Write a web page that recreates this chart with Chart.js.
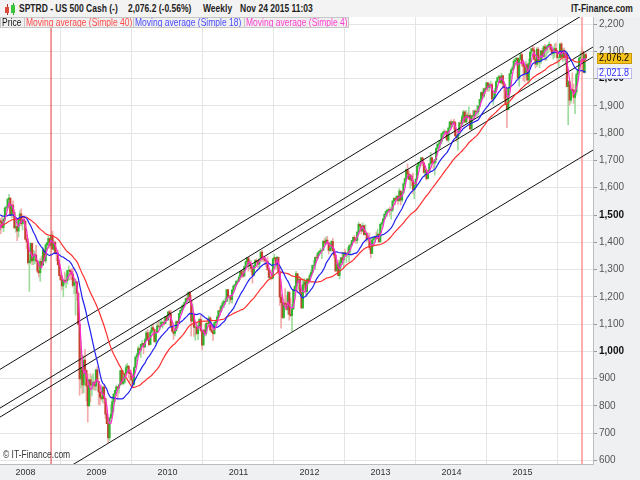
<!DOCTYPE html>
<html lang="en">
<head>
<meta charset="UTF-8">
<title>SPTRD - US 500 Cash - Weekly</title>
<style>
  body { margin: 0; background: #fff; font-family: "Liberation Sans", Arial, sans-serif; }
  #wrap { position: relative; width: 640px; height: 480px; overflow: hidden; }
  #c { position: absolute; left: 0; top: 0; }
  .sx { display: inline-block; white-space: nowrap; transform: scaleX(0.85); transform-origin: 0 50%; }
  #head { position: absolute; left: 0; top: 0; width: 640px; height: 17px; background: #f3f3f3; }
  #head .h { position: absolute; top: 2px; font-size: 10px; font-weight: bold; color: #1e1e1e; line-height: 13px; }
  .ic { position: absolute; width: 4px; }
  .lg { position: absolute; top: 17px; height: 11px; box-sizing: border-box; border: 1px solid #c6c6c6;
        background: #f0f0f0; font-size: 10px; line-height: 9px; overflow: hidden; padding-left: 1px; }
  #copy { position: absolute; left: 3px; top: 449px; font-size: 10px; color: #333; }
</style>
</head>
<body>
<div id="wrap">
  <canvas id="c" width="640" height="480"></canvas>
  <div id="head">
    <div class="ic" style="left:6px;top:4px;height:1px;background:#b03030;width:1px;left:7px;height:11px"></div>
    <div class="ic" style="left:5px;top:7px;height:6px;background:#e04a3a"></div>
    <div class="ic" style="left:12px;top:3px;height:12px;width:1px;left:13px;background:#2e9e2e"></div>
    <div class="ic" style="left:11px;top:5px;height:8px;background:#3cc43c"></div>
    <span class="h sx" style="left:19px">SPTRD - US 500 Cash (-)</span>
    <span class="h sx" style="left:128px">2,076.2 (-0.56%)</span>
    <span class="h sx" style="left:203px">Weekly</span>
    <span class="h sx" style="left:240px">Nov 24 2015 11:03</span>
    <span class="h sx" style="left:571px">IT-Finance.com</span>
  </div>
  <div class="lg" style="left:0;width:25px;color:#111"><span class="sx">Price</span></div>
  <div class="lg" style="left:24px;width:110px;color:#ff4a4a"><span class="sx">Moving average (Simple 40)</span></div>
  <div class="lg" style="left:133px;width:112px;color:#4a4aff"><span class="sx">Moving average (Simple 18)</span></div>
  <div class="lg" style="left:244px;width:105px;color:#ff3ccf"><span class="sx">Moving average (Simple 4)</span></div>
  <div id="copy"><span class="sx">&copy; IT-Finance.com</span></div>
</div>
<script src="https://cdn.jsdelivr.net/npm/chart.js"></script>
<script>
// weekly bars, first one starts Monday 6 Nov 2006 (those only feed the moving averages)
const firstWeek = Date.UTC(2006, 10, 6);

const warmupCloses = [
  1380, 1401, 1400, 1397, 1409, 1427, 1410, 1418, 1409, 1430, 1430, 1423, 1449, 1438,
  1455, 1451, 1388, 1402, 1386, 1437, 1421, 1443, 1452, 1484, 1494, 1505, 1505, 1522,
  1515, 1536, 1507, 1533, 1503, 1503, 1530, 1552, 1534, 1459, 1433, 1453, 1446
];

// visible weeks, from 20 Aug 2007 to 23 Nov 2015 (one line per year)
const closes = [
  1479,1474,1454,1484,1526,1527,1557,1562,1500,1536,1509,1453,1458,1441,1481,1504,1468,1484,1478,1411,
  1401,1325,1331,1396,1332,1349,1353,1331,1294,1288,1330,1316,1370,1332,1390,1398,1414,1389,1426,1375,1400,1361,1360,1318,1278,1262,1240,1261,1257,1260,1296,1298,1292,1283,1242,1252,1255,1213,1099,899,940,877,968,930,873,800,896,876,880,887,873,932,
  890,851,832,826,869,827,770,735,683,756,769,816,843,857,870,866,877,930,883,887,919,940,946,921,918,896,879,941,979,987,1010,1005,1026,1029,1016,1042,1068,1044,1025,1071,1087,1080,1036,1069,1093,1091,1091,1106,1106,1102,1127,1115,
  1145,1136,1092,1074,1066,1075,1109,1104,1139,1150,1160,1167,1179,1194,1192,1217,1187,1111,1136,1088,1089,1065,1092,1117,1077,1023,1078,1065,1103,1102,1122,1079,1071,1065,1105,1110,1126,1149,1147,1166,1177,1183,1183,1226,1200,1200,1190,1225,1240,1244,1257,1258,
  1272,1293,1283,1276,1311,1329,1343,1320,1321,1304,1279,1314,1333,1329,1320,1338,1364,1340,1338,1333,1331,1300,1271,1272,1268,1340,1344,1316,1345,1292,1199,1179,1124,1177,1174,1154,1216,1136,1131,1155,1225,1238,1285,1253,1264,1216,1159,1244,1255,1219,1265,1258,
  1278,1289,1315,1316,1345,1343,1361,1366,1370,1371,1404,1397,1408,1398,1370,1378,1403,1369,1353,1295,1318,1278,1325,1343,1335,1362,1355,1357,1363,1386,1391,1406,1418,1411,1407,1438,1466,1460,1441,1461,1428,1433,1412,1414,1380,1359,1409,1416,1418,1413,1430,1402,1466,
  1472,1486,1503,1513,1518,1520,1516,1518,1551,1561,1556,1569,1553,1588,1555,1582,1614,1634,1667,1650,1631,1643,1626,1593,1606,1632,1680,1692,1692,1710,1691,1656,1664,1633,1655,1688,1710,1692,1691,1703,1745,1760,1762,1771,1798,1804,1806,1805,1775,1818,1841,1831,
  1842,1839,1790,1783,1797,1838,1836,1859,1878,1841,1866,1857,1865,1815,1864,1863,1881,1878,1878,1900,1924,1949,1936,1963,1961,1985,1968,1978,1978,1925,1931,1955,1988,2003,2007,1985,2011,1982,1968,1906,1886,1964,2018,2032,2039,2064,2068,2075,2002,2071,2088,2058,
  2045,2019,2051,1995,2055,2097,2110,2104,2071,2053,2108,2061,2067,2102,2081,2117,2108,2116,2123,2126,2107,2092,2094,2110,2102,2077,2077,2127,2080,2104,2078,2092,1971,1989,1921,1961,1958,1931,1951,2015,2033,2075,2079,2099,2023,2088,2076.2
];

const highs = [
  1484,1488,1496,1488,1530,1533,1561,1576,1563,1536,1552,1520,1492,1456,1488,1515,1523,1485,1499,1471,
  1429,1414,1355,1397,1396,1371,1368,1389,1332,1321,1341,1349,1380,1375,1395,1399,1422,1416,1429,1441,1406,1404,1368,1371,1335,1285,1278,1263,1291,1284,1297,1313,1300,1303,1304,1267,1265,1255,1215,1097,1006,985,984,1007,932,917,897,918,909,918,892,934,
  943,888,851,877,870,875,828,779,735,758,804,832,845,858,876,871,880,930,912,930,920,951,956,947,931,931,898,943,980,993,1018,1013,1027,1040,1029,1048,1074,1080,1063,1076,1097,1101,1083,1072,1105,1113,1112,1120,1110,1117,1128,1130,
  1145,1150,1151,1103,1104,1079,1112,1112,1139,1151,1170,1173,1181,1195,1214,1217,1219,1205,1174,1141,1105,1105,1094,1120,1131,1081,1079,1099,1104,1120,1129,1127,1100,1081,1106,1114,1131,1149,1162,1168,1185,1189,1196,1227,1227,1205,1205,1226,1241,1247,1259,1263,
  1278,1294,1297,1302,1312,1331,1344,1342,1335,1332,1302,1315,1337,1339,1329,1340,1365,1370,1350,1347,1334,1346,1299,1293,1298,1341,1356,1344,1348,1345,1307,1209,1208,1190,1230,1204,1221,1220,1195,1172,1227,1240,1293,1277,1277,1265,1215,1265,1267,1255,1267,1269,
  1285,1297,1316,1333,1345,1354,1362,1368,1378,1372,1405,1415,1420,1422,1398,1393,1406,1415,1373,1354,1328,1334,1335,1345,1364,1363,1375,1358,1380,1389,1394,1407,1419,1426,1413,1438,1474,1467,1460,1471,1461,1464,1433,1434,1434,1384,1409,1420,1423,1438,1448,1431,1467,
  1472,1486,1503,1514,1518,1524,1530,1525,1552,1564,1563,1570,1573,1597,1588,1585,1618,1635,1667,1687,1661,1646,1649,1654,1620,1632,1680,1693,1698,1710,1709,1694,1671,1669,1664,1689,1730,1711,1700,1704,1745,1760,1775,1774,1798,1804,1813,1808,1809,1823,1844,1849,
  1843,1851,1844,1803,1798,1840,1847,1867,1884,1882,1884,1875,1897,1872,1865,1884,1885,1887,1902,1901,1924,1950,1955,1963,1968,1985,1984,1983,1991,1984,1945,1964,1992,2005,2012,2008,2020,2011,1985,1978,1905,1965,2019,2034,2046,2071,2075,2079,2076,2077,2094,2093,
  2064,2056,2064,2057,2072,2097,2110,2119,2117,2080,2114,2114,2088,2103,2111,2120,2126,2120,2123,2135,2127,2121,2115,2127,2130,2085,2078,2129,2132,2111,2113,2102,2097,1993,1987,1976,2021,1980,1953,2020,2034,2080,2094,2116,2094,2091,2095
];

const lows = [
  1430,1432,1453,1439,1475,1514,1520,1546,1500,1489,1491,1450,1437,1406,1419,1460,1460,1445,1468,1411,
  1377,1320,1220,1322,1317,1318,1321,1330,1287,1272,1257,1312,1315,1331,1324,1371,1379,1378,1384,1373,1370,1359,1332,1316,1277,1261,1225,1200,1248,1233,1247,1263,1262,1263,1236,1210,1133,1187,1097,839,866,845,848,899,818,741,801,815,837,860,857,857,
  888,805,804,821,812,808,754,734,666,672,752,766,779,814,838,826,847,878,879,878,881,917,930,903,888,895,869,875,941,966,987,990,978,1021,991,1016,1040,1041,1020,1025,1069,1075,1033,1029,1067,1086,1079,1095,1085,1095,1102,1114,
  1116,1130,1090,1071,1044,1057,1075,1086,1105,1135,1147,1152,1165,1175,1188,1181,1181,1056,1125,1055,1040,1060,1043,1085,1071,1005,1028,1062,1056,1088,1105,1076,1069,1040,1062,1095,1107,1122,1132,1144,1159,1160,1172,1183,1195,1173,1179,1177,1218,1231,1240,1253,
  1257,1263,1272,1270,1276,1310,1324,1294,1302,1291,1250,1279,1309,1321,1305,1303,1331,1329,1330,1318,1311,1297,1268,1262,1262,1268,1333,1303,1302,1282,1168,1085,1120,1121,1170,1150,1136,1114,1127,1074,1157,1192,1224,1215,1226,1209,1158,1159,1231,1209,1202,1248,
  1259,1274,1290,1306,1300,1334,1340,1352,1359,1340,1370,1390,1391,1394,1357,1367,1367,1368,1343,1292,1296,1277,1266,1306,1324,1309,1351,1326,1346,1329,1354,1390,1401,1398,1397,1396,1429,1452,1431,1440,1426,1429,1403,1406,1373,1343,1358,1385,1398,1411,1414,1398,1398,
  1451,1461,1485,1496,1495,1510,1497,1485,1512,1547,1538,1550,1539,1549,1537,1548,1577,1612,1630,1635,1630,1598,1608,1577,1560,1601,1632,1671,1676,1681,1683,1654,1639,1628,1633,1655,1687,1687,1670,1646,1692,1740,1752,1746,1760,1780,1799,1779,1772,1767,1819,1827,
  1823,1815,1790,1770,1738,1791,1824,1825,1834,1839,1839,1842,1864,1814,1820,1859,1851,1859,1862,1868,1900,1915,1925,1930,1944,1958,1952,1955,1965,1917,1905,1929,1956,1988,1995,1983,1980,1965,1926,1905,1820,1886,1951,2001,2030,2034,2061,2049,2002,1972,2069,2046,
  1992,1988,2005,1990,1980,2041,2085,2099,2067,2039,2045,2052,2040,2056,2073,2079,2067,2067,2093,2116,2099,2085,2072,2078,2097,2057,2045,2076,2077,2063,2067,2052,1970,1831,1903,1910,1939,1909,1872,1940,1992,2022,2060,2073,2022,2020,2070
];

const maPeriods = [40, 18, 4];
const priceTicks = [600, 700, 800, 900, 1000, 1100, 1200, 1300, 1400, 1500, 1600, 1700, 1800, 1900, 2000, 2100, 2200];
const yearTicks = [2008, 2009, 2010, 2011, 2012, 2013, 2014, 2015];

// trend lines drawn on the chart: [year, price, year, price]
const channelLines = [
  [2007.641, 934, 2015.993, 2256],
  [2007.641, 792, 2015.993, 2116],
  [2007.641, 759, 2015.993, 2080],
  [2008.6, 574, 2015.993, 1738]
];
const markerYears = [2008.36, 2015.838];
// values shown in the right-hand boxes: last price, MA 18
const axisMarks = [2076.2, 2021.8];

const xMin = 2007.641, xMax = 2015.993;
const yMin = 587, yMax = 2226;

function weekX(g) {
  const t = firstWeek + g * 7 * 86400000;
  const y = new Date(t).getUTCFullYear();
  const s = Date.UTC(y, 0, 1), e = Date.UTC(y + 1, 0, 1);
  return y + (t - s) / (e - s);
}

const allCloses = warmupCloses.concat(closes);
const off = warmupCloses.length;
const n = Math.min(closes.length, highs.length, lows.length);

const wicks = [], bodies = [];
for (let i = 0; i < n; i++) {
  const g = i + off;
  const o = allCloses[g - 1], c = closes[i];
  const x = weekX(g);
  const up = c >= o;
  wicks.push({ x, y: [Math.min(lows[i], o, c), Math.max(highs[i], o, c)], up });
  bodies.push({ x, y: [o, c], up });
}

function sma(p) {
  const out = [];
  for (let i = 0; i < n; i++) {
    const g = i + off;
    let s = 0;
    for (let k = g - p + 1; k <= g; k++) s += allCloses[k];
    out.push({ x: weekX(g), y: s / p });
  }
  return out;
}

const maColors = { 40: '#ff2e2e', 18: '#2020f0', 4: '#ff2ad0' };
const maOrder = { 40: 4, 18: 3, 4: 2 };

const datasets = [];
maPeriods.forEach(p => {
  datasets.push({
    type: 'line', data: sma(p), borderColor: maColors[p], borderWidth: 1.2,
    pointRadius: 0, tension: 0, order: maOrder[p]
  });
});
channelLines.forEach(l => {
  datasets.push({
    type: 'line', data: [{ x: l[0], y: l[1] }, { x: l[2], y: l[3] }],
    borderColor: '#111', borderWidth: 1, pointRadius: 0, order: 5
  });
});
markerYears.forEach((m, i) => {
  datasets.push({
    type: 'line', data: [{ x: m, y: 0 }, { x: m, y: 5000 }],
    borderColor: i === 0 ? '#e23a3a' : 'rgba(255,150,150,0.75)', borderWidth: i === 0 ? 1 : 2,
    pointRadius: 0, order: 6
  });
});
datasets.push({
  type: 'bar', data: bodies, grouped: false, barThickness: 1.4, borderWidth: 0, order: 7,
  backgroundColor: c => (c.raw && c.raw.up) ? '#2fb52f' : '#c4402e'
});
datasets.push({
  type: 'bar', data: wicks, grouped: false, barThickness: 1, borderWidth: 0, order: 8,
  backgroundColor: c => (c.raw && c.raw.up) ? '#9edc9e' : '#f2aaaa'
});

const frame = {
  id: 'frame',
  beforeDraw(chart) {
    const { ctx, chartArea: a, width, height } = chart;
    ctx.save();
    ctx.fillStyle = '#eef0f1';
    ctx.fillRect(0, 0, width, height);
    ctx.fillStyle = '#ffffff';
    ctx.fillRect(a.left, a.top, a.right - a.left, a.bottom - a.top);
    ctx.restore();
  },
  afterDraw(chart) {
    const { ctx, chartArea: a } = chart;
    const ys = chart.scales.y;
    const styles = [
      { bg: '#f6c21c', line: '#c99a00', text: '#000' },
      { bg: '#ffffff', line: '#b8b8f0', text: '#2b2bff' }
    ];
    ctx.save();
    ctx.font = '10px "Liberation Sans", Arial, sans-serif';
    ctx.textBaseline = 'middle';
    axisMarks.forEach((v, i) => {
      const y = Math.round(ys.getPixelForValue(v));
      const st = styles[i];
      const left = a.right + 4;
      ctx.fillStyle = st.bg;
      ctx.fillRect(left, y - 5, 35, 11);
      ctx.strokeStyle = st.line;
      ctx.strokeRect(left + 0.5, y - 4.5, 34, 10);
      ctx.fillStyle = st.text;
      ctx.save();
      ctx.translate(left + 2, y + 0.5);
      ctx.scale(0.9, 1);
      ctx.fillText(v.toLocaleString('en-US', { minimumFractionDigits: 1 }), 0, 0);
      ctx.restore();
    });
    ctx.restore();
  }
};

Chart.defaults.font.family = '"Liberation Sans", Arial, sans-serif';

new Chart(document.getElementById('c'), {
  type: 'bar',
  data: { datasets },
  options: {
    responsive: false,
    animation: false,
    layout: { padding: { top: 17, left: 0, right: 0, bottom: 0 } },
    plugins: { legend: { display: false }, tooltip: { enabled: false } },
    scales: {
      x: {
        type: 'linear', min: xMin, max: xMax, offset: false,
        grid: { color: '#e4e4e4', drawTicks: false },
        border: { color: '#bdbdbd' },
        ticks: { font: { size: 9 }, color: '#333', padding: 3, autoSkip: false, maxRotation: 0,
                 callback: v => String(v) },
        afterBuildTicks: s => { s.ticks = yearTicks.map(v => ({ value: v })); },
        afterFit: s => { s.height = 16; }
      },
      y: {
        type: 'linear', position: 'right', min: yMin, max: yMax,
        grid: { color: '#e4e4e4', tickColor: '#9a9a9a', tickLength: 4 },
        border: { color: '#bdbdbd' },
        ticks: {
          padding: 2,
          font: c => ({ size: 10, weight: (c.tick && c.tick.value % 500 === 0) ? 'bold' : 'normal' }),
          color: c => (c.tick && c.tick.value % 500 === 0) ? '#111' : '#555',
          callback: v => v.toLocaleString('en-US')
        },
        afterBuildTicks: s => { s.ticks = priceTicks.map(v => ({ value: v })); },
        afterFit: s => { s.width = 47; }
      }
    }
  },
  plugins: [frame]
});
</script>
</body>
</html>
